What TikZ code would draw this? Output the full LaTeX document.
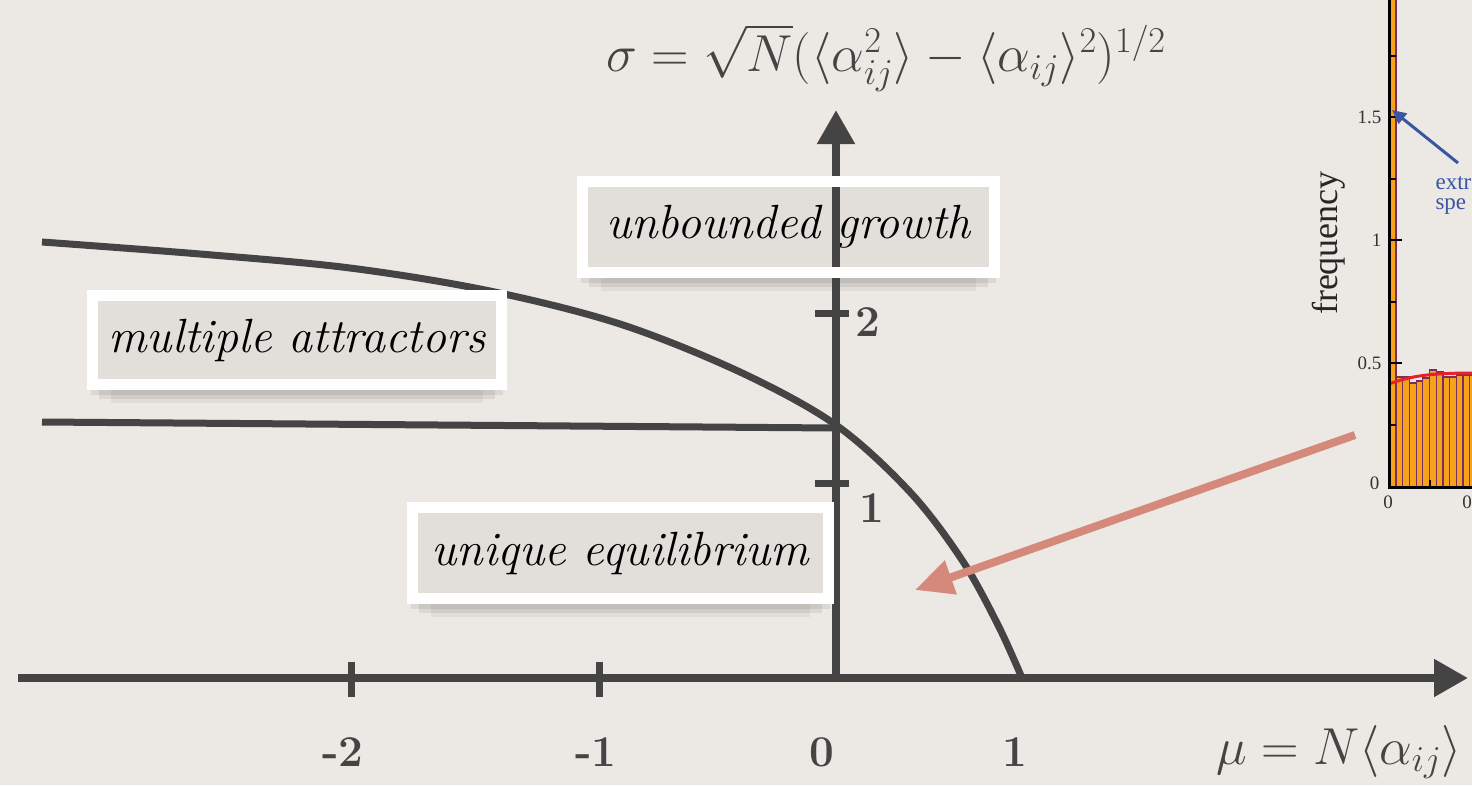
\RequirePackage{fix-cm}
\documentclass[tikz,border=0pt]{standalone}
\usepackage{amsmath}
\usepackage{fontspec}
\newfontfamily\plotfont{Liberation Serif}
\usetikzlibrary{arrows.meta}
\definecolor{paper}{HTML}{ECE9E4}
\definecolor{boxfill}{HTML}{E2DFDA}
\definecolor{axisgrey}{HTML}{444444}
\definecolor{salmon}{HTML}{D4897B}
\definecolor{barorange}{HTML}{F7A21B}
\definecolor{barline}{HTML}{7A2E5E}
\definecolor{fitred}{HTML}{E8202A}
\definecolor{noteblue}{HTML}{3A55A4}
\tikzset{
  regionbox/.style={fill=boxfill, inner sep=0pt, text=black,
    font=\fontsize{48}{54}\selectfont\itshape},
  frame/.style={draw=white, line width=11pt},
  axisline/.style={draw=axisgrey, line width=8pt},
  axisarrow/.style={axisline, -{Triangle[length=34pt,width=36pt]}},
  tickmark/.style={draw=axisgrey, line width=7pt},
  ticklabel/.style={text=axisgrey, font=\fontsize{44}{50}\selectfont\bfseries},
  mathlabel/.style={text=axisgrey, inner sep=0pt, font=\fontsize{52}{56}\selectfont},
  boundary/.style={draw=axisgrey, line width=7pt},
  pointer/.style={draw=salmon, line width=8pt, -{Triangle[length=38pt,width=34pt]}},
  bar/.style={draw=barline, line width=1.2pt, fill=barorange},
  plottick/.style={draw=black, line width=2pt},
  plotlabel/.style={font=\plotfont\fontsize{19}{22}\selectfont, text=black!80},
  note/.style={font=\plotfont\fontsize{23}{26}\selectfont, text=noteblue, anchor=west}
}
\begin{document}
\begin{tikzpicture}[x=1pt,y=-1pt]
\fill[paper] (0,0) rectangle (1472,785);
\useasboundingbox (0,0) rectangle (1472,785);

% shadows of the boxes
\foreach \l/\r/\b in {577/1000/278, 87/507/390, 407/834/604}{
  \fill[black, opacity=0.07] (\l+4,\b-4) rectangle (\r-4,\b+5);
  \fill[black, opacity=0.07] (\l+12,\b) rectangle (\r-12,\b+9);
  \fill[black, opacity=0.05] (\l+24,\b) rectangle (\r-24,\b+13);
}

% region boxes (fill and text)
\node[regionbox, minimum width=412pt, minimum height=91pt] (ug) at (788.5,227) {unbounded growth};
\node[regionbox, minimum width=409pt, minimum height=89pt] (ma) at (297,340) {multiple attractors};
\node[regionbox, minimum width=416pt, minimum height=91pt] (ue) at (620.5,553) {unique equilibrium};

% axes
\coordinate (xs) at (18,678);
\coordinate (xe) at (1468,678);
\coordinate (o) at (836,678);
\coordinate (ye) at (836,110);
\draw[axisarrow] (xs) -- (xe);
\draw[axisarrow] (o) -- (ye);

% ticks
\coordinate (tm2a) at (351,662); \coordinate (tm2b) at (351,697);
\coordinate (tm1a) at (599,662); \coordinate (tm1b) at (599,697);
\coordinate (ty2a) at (815,313); \coordinate (ty2b) at (849,313);
\coordinate (ty1a) at (815,483); \coordinate (ty1b) at (849,483);
\draw[tickmark] (tm2a) -- (tm2b);
\draw[tickmark] (tm1a) -- (tm1b);
\draw[tickmark] (ty2a) -- (ty2b);
\draw[tickmark] (ty1a) -- (ty1b);

\node[ticklabel] (lm2) at (343,752) {-2};
\node[ticklabel] (lm1) at (596,752) {-1};
\node[ticklabel] (l0) at (822,752) {0};
\node[ticklabel] (l1) at (1015,752) {1};
\node[ticklabel] (ly2) at (868,322) {2};
\node[ticklabel] (ly1) at (872,508) {1};

% axis labels
\node[mathlabel] (sig) at (886,58) {$\sigma = \sqrt{N}(\langle \alpha_{ij}^2\rangle - \langle \alpha_{ij}\rangle^2)^{1/2}$};
\node[mathlabel, anchor=west] (mu) at (1216,752) {$\mu = N\langle \alpha_{ij}\rangle$};

% phase boundaries
\draw[boundary] plot[smooth, tension=0.55] coordinates {(42,242) (200,254) (350,268) (490,291) (620,324) (740,372) (836,425) (910,492) (962,560) (998,625) (1022,678)};
\draw[boundary] (42,422) -- (836,428);

% white frames
\draw[frame] (ug.south west) rectangle (ug.north east);
\draw[frame] (ma.south west) rectangle (ma.north east);
\draw[frame] (ue.south west) rectangle (ue.north east);

% histogram (partial, right edge)
\draw[bar] (1389,-10) rectangle (1396,487);
\foreach \i/\t in {0/377,1/377,2/383,3/381,4/378,5/370,6/372,7/377,8/377,9/375,10/375,11/375}{
  \draw[bar] (1396+6.7*\i,\t) rectangle (1396+6.7*\i+6.7,487);
}
\draw[fitred, line width=3pt] (1389,384) .. controls (1410,376) and (1430,373) .. (1475,373);
\draw[black, line width=3pt] (1389,-5) -- (1389,487) -- (1480,487);
\foreach \y in {363,240,117}{ \draw[plottick] (1389,\y) -- (1402,\y); }
\foreach \y in {425,302,179,56}{ \draw[plottick] (1389,\y) -- (1396,\y); }
\draw[plottick] (1430,487) -- (1430,480);
\node[plotlabel, anchor=east] (p15) at (1385,117) {1.5};
\node[plotlabel, anchor=east] (p1) at (1385,240) {1};
\node[plotlabel, anchor=east] (p05) at (1385,363) {0.5};
\node[plotlabel, anchor=east] (p0) at (1383,483) {0};
\node[plotlabel] (b0) at (1388,502) {0};
\node[plotlabel] (b05) at (1467,502) {0};
\node[font=\plotfont\fontsize{36}{40}\selectfont, rotate=90, text=black!85] (freq) at (1329,243) {frequency};
\coordinate (bluetail) at (1458,163);
\coordinate (bluetip) at (1392,110);
\draw[noteblue, line width=3pt, -{Triangle[length=14pt,width=13pt]}] (bluetail) -- (bluetip);
\node[note] (n1) at (1432,183) {extr};
\node[note] (n2) at (1432,207) {spe};

% pointer arrow
\coordinate (ptail) at (1355,435);
\coordinate (phead) at (915,590);
\draw[pointer] (ptail) -- (phead);
\end{tikzpicture}
\end{document}
